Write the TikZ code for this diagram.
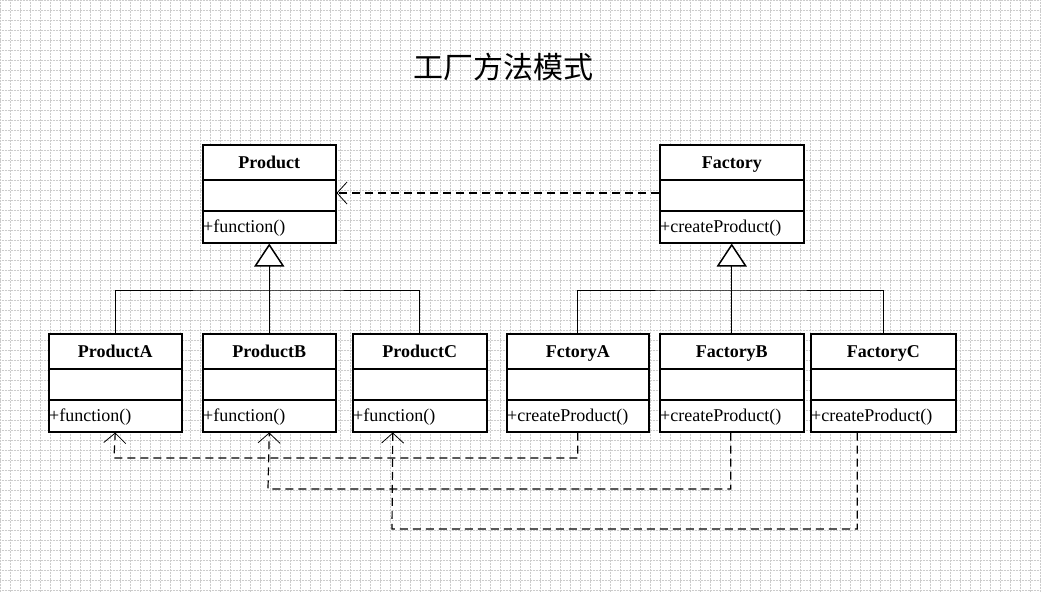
\documentclass[tikz,border=0pt]{standalone}
\usepackage{fontspec}
\setmainfont{Liberation Serif}
\newfontfamily\cjk{Noto Sans CJK SC}
\usetikzlibrary{arrows.meta}

% one class box: name, left x, top y, width, title, member
\newcommand{\umlcls}[6]{%
  \node[cls, minimum width=#4pt, anchor=north west] (#1) at (#2,#3) {};
  \node[title, anchor=base] (#1t) at ([yshift=-24pt]#1.north) {#5};
  \draw[line width=1.5pt] ([yshift=-36pt]#1.north west) -- ([yshift=-36pt]#1.north east);
  \draw[line width=1.5pt] ([yshift=-67pt]#1.north west) -- ([yshift=-67pt]#1.north east);
  \node[member, anchor=base west] (#1m) at ([yshift=-88pt]#1.north west) {#6};
}

\tikzset{
  cls/.style={draw, line width=1.5pt, fill=white, minimum height=98pt, inner sep=0pt},
  title/.style={font=\fontsize{18}{21}\selectfont\bfseries, inner sep=0pt},
  member/.style={font=\fontsize{18}{21}\selectfont, inner sep=1pt},
  dep/.style={line width=1.2pt, dash pattern=on 8pt off 5pt, -{Straight Barb[length=10pt,width=22pt,line width=0.8pt]}},
  gen/.style={line width=1pt, -{Triangle[open,length=23pt,width=30pt,fill=white,line width=1.5pt]}},
}

\begin{document}
\begin{tikzpicture}[x=1pt, y=-1pt]
    \useasboundingbox (0,0) rectangle (1041,592);
    \fill[white] (0,0) rectangle (1041,592);
    \foreach \x in {0,10,...,1040}
        \draw[gray!40, densely dotted, line width=0.5pt] (\x,0) -- (\x,592);
    \foreach \y in {0,10,...,590}
        \draw[gray!40, densely dotted, line width=0.5pt] (0,\y) -- (1041,\y);

    \node[font=\cjk\fontsize{30}{34}\selectfont] (ttl) at (503,67) {工厂方法模式};

    \umlcls{prod}{202}{144}{133}{Product}{+function()}
    \umlcls{fact}{659}{144}{144}{Factory}{+createProduct()}
    \umlcls{pa}{48}{333}{133}{ProductA}{+function()}
    \umlcls{pb}{202}{333}{133}{ProductB}{+function()}
    \umlcls{pc}{352}{333}{134}{ProductC}{+function()}
    \umlcls{fa}{506}{333}{142}{FctoryA}{+createProduct()}
    \umlcls{fb}{659}{333}{144}{FactoryB}{+createProduct()}
    \umlcls{fc}{810}{333}{145}{FactoryC}{+createProduct()}

    % inheritance
    \coordinate (pj) at (prod.south |- 0,290);
    \coordinate (fj) at (fact.south |- 0,290);
    \draw[line width=1pt] (pa.north) |- (pj) -| (pc.north);
    \draw[line width=1pt] (pb.north) -- (pj);
    \draw[gen] (pj) -- (prod.south);
    \draw[line width=1pt] (fa.north) |- (fj) -| (fc.north);
    \draw[line width=1pt] (fb.north) -- (fj);
    \draw[gen] (fj) -- (fact.south);

    % dependencies
    \draw[dep] ([yshift=-49pt]fact.north west) -- ([yshift=-49pt]prod.north east);
    \draw[dep] (fa.south) |- (114,458) -- (pa.south);
    \draw[dep] ([xshift=-1pt]fb.south) |- (268,489) -- (pb.south);
    \draw[dep] ([xshift=-26pt]fc.south) |- (392,529) -- ([xshift=-27pt]pc.south);
\end{tikzpicture}
\end{document}
